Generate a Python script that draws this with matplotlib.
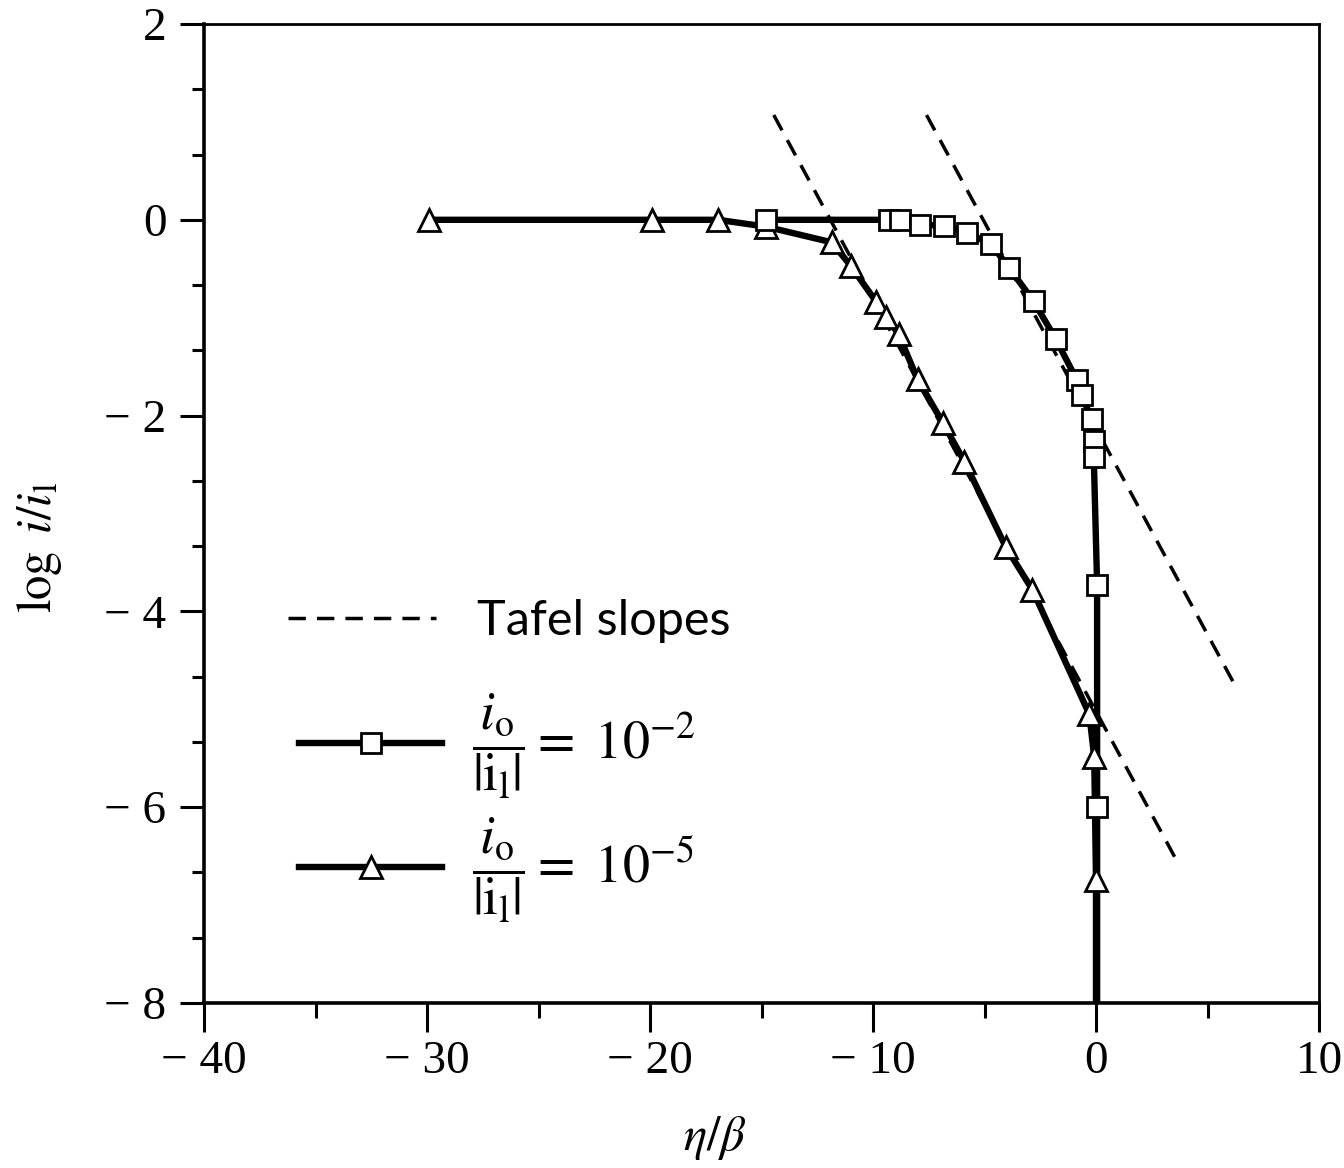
import matplotlib
matplotlib.use("Agg")
import matplotlib.pyplot as plt
from matplotlib.lines import Line2D
from matplotlib.ticker import FixedLocator, FixedFormatter, MultipleLocator

# ---------------- data ----------------
# i0/|il| = 1e-2  (squares)
sq_x = [-14.8, -9.3, -8.8, -7.9, -6.8, -5.8, -4.7, -3.9, -2.8, -1.8,
        -0.85, -0.65, -0.2, -0.1, -0.1, 0.05, 0.05]
sq_y = [0.0, 0.0, 0.0, -0.05, -0.06, -0.13, -0.25, -0.49, -0.83, -1.22,
        -1.64, -1.79, -2.03, -2.26, -2.42, -3.73, -6.0]
sq_end = (0.05, -8.0)          # curve runs on to the bottom of the axes

# i0/|il| = 1e-5  (triangles)
tri_x = [-29.9, -19.9, -16.95, -14.8, -11.85, -11.0, -9.85, -9.4, -8.85,
         -8.0, -6.85, -5.9, -4.05, -2.85, -0.3, -0.08, 0.0]
tri_y = [0.0, 0.0, 0.0, -0.07, -0.23, -0.47, -0.84, -0.99, -1.17,
         -1.63, -2.08, -2.47, -3.34, -3.78, -5.05, -5.49, -6.74]
tri_end = (0.0, -8.0)

# Tafel slope lines
tafel1_x = [-14.45, 3.7]
tafel1_y = [1.07, -6.58]
tafel2_x = [-7.6, 6.15]
tafel2_y = [1.07, -4.72]

# axes ticks / labels
x_major = [-40, -30, -20, -10, 0, 10]
x_labels = ["\u2212 40", "\u2212 30", "\u2212 20", "\u2212 10", "0", "10"]
y_major = [2, 0, -2, -4, -6, -8]
y_labels = ["2", "0", "\u2212 2", "\u2212 4", "\u2212 6", "\u2212 8"]

tafel_label = "Tafel slopes"
series_labels = [r"$\dfrac{i_{\mathrm{o}}}{|\mathrm{i}_{\mathrm{l}}|}=\ 10^{-2}$",
                 r"$\dfrac{i_{\mathrm{o}}}{|\mathrm{i}_{\mathrm{l}}|}=\ 10^{-5}$"]

# ---------------- style ----------------
plt.rcParams["font.family"] = ["Liberation Serif", "DejaVu Serif"]
plt.rcParams["mathtext.fontset"] = "stix"

fig = plt.figure(figsize=(13.44, 11.68), dpi=100)
ax = fig.add_axes([204 / 1344, 1 - 1003 / 1168, 1115 / 1344, 979 / 1168])

line_kw = dict(color="black", lw=4.6, solid_capstyle="round", solid_joinstyle="round")
mk_kw = dict(markerfacecolor="white", markeredgecolor="black", markeredgewidth=2.0)

# curves (line first, then markers on top)
ax.plot(sq_x + [sq_end[0]], sq_y + [sq_end[1]], **line_kw, zorder=3)
ax.plot(tri_x + [tri_end[0]], tri_y + [tri_end[1]], **line_kw, zorder=3)

dash = (0, (5.0, 3.2))
ax.plot(tafel1_x, tafel1_y, color="black", lw=2.5, linestyle=dash, zorder=2)
ax.plot(tafel2_x, tafel2_y, color="black", lw=2.5, linestyle=dash, zorder=2)

ax.plot(tri_x, tri_y, linestyle="none", marker="^", markersize=16, **mk_kw, zorder=4)
ax.plot(sq_x, sq_y, linestyle="none", marker="s", markersize=14, **mk_kw, zorder=5)

ax.set_xlim(-40, 10)
ax.set_ylim(-8, 2)

# ticks
ax.xaxis.set_major_locator(FixedLocator(x_major))
ax.xaxis.set_major_formatter(FixedFormatter(x_labels))
ax.xaxis.set_minor_locator(MultipleLocator(5))
ax.yaxis.set_major_locator(FixedLocator(y_major))
ax.yaxis.set_major_formatter(FixedFormatter(y_labels))
ax.yaxis.set_minor_locator(MultipleLocator(2 / 3))

ax.tick_params(axis="x", which="major", direction="out", length=21, width=2.2,
               labelsize=34, pad=6)
ax.tick_params(axis="x", which="minor", direction="out", length=11, width=2.2)
ax.tick_params(axis="y", which="major", direction="out", length=17, width=2.2,
               labelsize=34, pad=10)
ax.tick_params(axis="y", which="minor", direction="out", length=9, width=2.2)

for s in ["left", "bottom"]:
    ax.spines[s].set_linewidth(2.6)
for s in ["top", "right"]:
    ax.spines[s].set_linewidth(2.0)

ax.set_xlabel(r"$\eta/\beta$", fontsize=35)
ax.set_ylabel(r"$\log\ i/i_{\mathrm{l}}$", fontsize=35)
ax.xaxis.set_label_coords(0.458, -0.113)
ax.yaxis.set_label_coords(-0.126, 0.465)

# legend: "Tafel slopes" entry
leg1 = ax.legend([Line2D([], [], color="black", lw=2.5, linestyle=dash)], [tafel_label],
                 loc="upper left", bbox_to_anchor=(0.075, 0.413),
                 frameon=False, handlelength=3.05, handletextpad=0.85,
                 borderpad=0, borderaxespad=0,
                 prop={"family": ["Lato", "DejaVu Sans"], "size": 35})
ax.add_artist(leg1)

# legend: the two curves
handles = [
    Line2D([], [], color="black", lw=4.6, marker="s", markersize=14, **mk_kw),
    Line2D([], [], color="black", lw=4.6, marker="^", markersize=16, **mk_kw),
]
leg2 = ax.legend(handles, series_labels, loc="upper left", bbox_to_anchor=(0.085, 0.318),
                 frameon=False, fontsize=39, handlelength=2.65, handletextpad=0.55,
                 handleheight=0.35, labelspacing=0.28, numpoints=1,
                 borderpad=0, borderaxespad=0)

fig.savefig("out.png", dpi=100, facecolor="white")
